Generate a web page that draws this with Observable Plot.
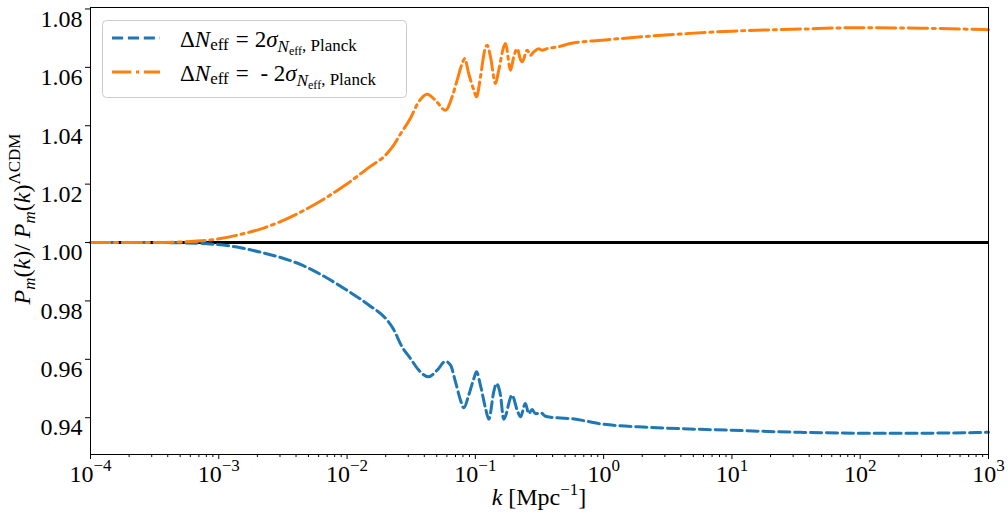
<!DOCTYPE html>
<html><head><meta charset="utf-8">
<script src="https://cdn.jsdelivr.net/npm/d3@7"></script>
<script src="https://cdn.jsdelivr.net/npm/@observablehq/plot@0.6"></script>
<style>
body{margin:0;background:#fff;}
#chart{width:1008px;height:512px;}
#chart svg, #chart svg text, #chart svg tspan { font-family: 'Liberation Serif', 'Times New Roman', serif !important; }
</style>
</head><body><div id="chart"></div>
<script>
// k [Mpc^-1] and ratio P_m(k)/P_m(k)^LCDM
const kOrange = [0.0001, 0.0003, 0.0005, 0.00098, 0.00148, 0.00211, 0.00433, 0.0097, 0.0152, 0.0199, 0.0228, 0.026, 0.0312, 0.0362, 0.0421, 0.0489, 0.0585, 0.0659, 0.0721, 0.0789, 0.0826, 0.0887, 0.0973, 0.1021, 0.1096, 0.1183, 0.1236, 0.1312, 0.1435, 0.1521, 0.1663, 0.1718, 0.1879, 0.1991, 0.2118, 0.2249, 0.2317, 0.2535, 0.2685, 0.2851, 0.3119, 0.3311, 0.3622, 0.4603, 0.5508, 0.98, 2.32, 9.9, 34.2, 98.6, 294, 1000];
const ratioOrange = [1.0000, 1.0000, 1.0002, 1.0012, 1.0028, 1.0046, 1.0104, 1.0197, 1.0261, 1.0299, 1.033, 1.0371, 1.0426, 1.0482, 1.0508, 1.0487, 1.0453, 1.0499, 1.0556, 1.0613, 1.0630, 1.0579, 1.0522, 1.0499, 1.0567, 1.0659, 1.0676, 1.0636, 1.0545, 1.0590, 1.0670, 1.0682, 1.0590, 1.0636, 1.0664, 1.0626, 1.0619, 1.0659, 1.0641, 1.0653, 1.0664, 1.0659, 1.0664, 1.0672, 1.0682, 1.0693, 1.0707, 1.0724, 1.0731, 1.0736, 1.0734, 1.0729];
const kBlue = [0.0001, 0.0003, 0.0005, 0.00098, 0.00148, 0.00211, 0.00433, 0.0097, 0.0152, 0.0199, 0.0228, 0.0269, 0.0312, 0.0362, 0.0432, 0.0504, 0.0585, 0.064, 0.07, 0.0766, 0.0813, 0.0887, 0.0973, 0.1021, 0.1096, 0.1202, 0.1274, 0.139, 0.1459, 0.157, 0.1663, 0.1932, 0.2118, 0.2249, 0.2455, 0.2606, 0.2773, 0.2938, 0.3258, 0.3516, 0.3963, 0.4603, 0.5508, 0.98, 2.32, 9.9, 34.2, 98.6, 294, 1000];
const ratioBlue = [1.0000, 1.0000, 0.9999, 0.9993, 0.9982, 0.9967, 0.9925, 0.9840, 0.9782, 0.9741, 0.9706, 0.9642, 0.9603, 0.9563, 0.9540, 0.9563, 0.9593, 0.9580, 0.9523, 0.9460, 0.9434, 0.9477, 0.9534, 0.9557, 0.9511, 0.9431, 0.9395, 0.9488, 0.9517, 0.9477, 0.9395, 0.9477, 0.9426, 0.9403, 0.9449, 0.9414, 0.9428, 0.9414, 0.9416, 0.9405, 0.9401, 0.9399, 0.9397, 0.9378, 0.9367, 0.9357, 0.9350, 0.9347, 0.9347, 0.9350];
const referenceRatio = [1];
const xTicks = [1e-4, 1e-3, 1e-2, 1e-1, 1e0, 1e1, 1e2, 1e3];
const yTicks = [0.94, 0.96, 0.98, 1.00, 1.02, 1.04, 1.06, 1.08];
const colors = {plus: "#1f77b4", minus: "#ff7f0e"};

const orange = kOrange.map((k, i) => ({k, r: ratioOrange[i]}));
const blue = kBlue.map((k, i) => ({k, r: ratioBlue[i]}));
const minorTicks = [];
for (let e = -4; e < 3; e++) for (let m = 2; m <= 9; m++) minorTicks.push(m * Math.pow(10, e));

const FONT = "'Liberation Serif', 'Times New Roman', serif";
const dashBlue = "11.1,4.8";
const dashOrange = "19.2,4.8,3,4.8";

const plot = Plot.plot({
  width: 1008, height: 512,
  marginLeft: 90, marginRight: 20, marginTop: 7, marginBottom: 58,
  style: {fontFamily: FONT, fontSize: "24px", color: "black", background: "white", overflow: "visible"},
  x: {type: "log", domain: [1e-4, 1e3]},
  y: {domain: [0.9274, 1.0805]},
  marks: [
    Plot.ruleY(referenceRatio, {stroke: "black", strokeWidth: 3}),
    Plot.line(blue, {x: "k", y: "r", stroke: colors.plus, strokeWidth: 3, strokeDasharray: dashBlue, curve: "monotone-x"}),
    Plot.line(orange, {x: "k", y: "r", stroke: colors.minus, strokeWidth: 3, strokeDasharray: dashOrange, curve: "monotone-x"}),
    Plot.frame({stroke: "black", strokeWidth: 1}),
    Plot.axisY(yTicks, {tickSize: 5, tickPadding: 3, tickFormat: d3.format(".2f"), label: null}),
    Plot.axisX(minorTicks, {tickSize: 3, tickFormat: () => "", label: null}),
    Plot.axisX(xTicks, {tickSize: 5, tickPadding: 5, tickFormat: d => "10|" + Math.round(Math.log10(d)), label: null})
  ]
});
document.getElementById("chart").appendChild(plot);

const svg = d3.select(plot);
// nudge y tick labels down a little (labels only, ticks stay on their values)
svg.selectAll('g[aria-label="y-axis tick label"] text').attr("dy", "0.42em");
// exponent formatting of x tick labels
svg.selectAll('g[aria-label="x-axis tick label"] text').each(function() {
  const s = this.textContent;
  if (!s.includes("|")) return;
  const exp = s.split("|")[1].replace("-", "\u2212");
  const t = d3.select(this);
  t.text("");
  t.append("tspan").text("10");
  t.append("tspan").attr("dy", -11).attr("font-size", 17).text(exp);
});

// helper for rich text
function rich(sel, parts) {
  let prev = 0;
  parts.forEach(p => {
    const shift = p.shift || 0;
    const ts = sel.append("tspan").text(p.t).attr("font-size", p.size || 24);
    if (shift !== prev) ts.attr("dy", shift - prev);
    if (p.it) ts.attr("font-style", "italic");
    if (p.dx) ts.attr("dx", p.dx);
    prev = shift;
  });
}

// axis labels
const xl = svg.append("text").attr("x", 539).attr("y", 505).attr("text-anchor", "middle")
  .attr("font-family", FONT).attr("font-size", 24).attr("fill", "black");
rich(xl, [{t: "k", it: true}, {t: " [Mpc"}, {t: "\u22121", size: 17, shift: -10}, {t: "]", shift: 0}]);

const yl = svg.append("text").attr("transform", "translate(30,219) rotate(-90)").attr("text-anchor", "middle")
  .attr("font-family", FONT).attr("font-size", 24).attr("fill", "black");
rich(yl, [
  {t: "P", it: true}, {t: "m", it: true, size: 17, shift: 5}, {t: "(", shift: 0}, {t: "k", it: true}, {t: ")/ "},
  {t: "P", it: true}, {t: "m", it: true, size: 17, shift: 5}, {t: "(", shift: 0}, {t: "k", it: true}, {t: ")"},
  {t: "\u039BCDM", size: 17, shift: -10}
]);

// legend
const lg = svg.append("g").attr("text-anchor", "start");
lg.append("rect").attr("x", 102.5).attr("y", 20.5).attr("width", 304).attr("height", 77).attr("rx", 4)
  .attr("fill", "white").attr("fill-opacity", 0.8).attr("stroke", "#cccccc").attr("stroke-width", 1);
lg.append("line").attr("x1", 112).attr("x2", 160).attr("y1", 38).attr("y2", 38)
  .attr("stroke", colors.plus).attr("stroke-width", 3).attr("stroke-dasharray", dashBlue);
lg.append("line").attr("x1", 112).attr("x2", 160).attr("y1", 72).attr("y2", 72)
  .attr("stroke", colors.minus).attr("stroke-width", 3).attr("stroke-dasharray", dashOrange);
const legendLabels = [
  {y: 46.5, sign: "2"},
  {y: 81, sign: " - 2"}
];
legendLabels.forEach(L => {
  const t = lg.append("text").attr("x", 180).attr("y", L.y).attr("text-anchor", "start")
    .attr("font-family", FONT).attr("font-size", 23).attr("fill", "black");
  rich(t, [
    {t: "\u0394", size: 23}, {t: "N", it: true, size: 23}, {t: "eff", size: 17, shift: 3},
    {t: "=", size: 23, shift: 0, dx: 7}, {t: L.sign, size: 23, dx: 6}, {t: "\u03C3", it: true, size: 23},
    {t: "N", it: true, size: 17, shift: 5}, {t: "eff", size: 12, shift: 8}, {t: ", Planck", size: 17, shift: 4}
  ]);
});
</script>
</body></html>
